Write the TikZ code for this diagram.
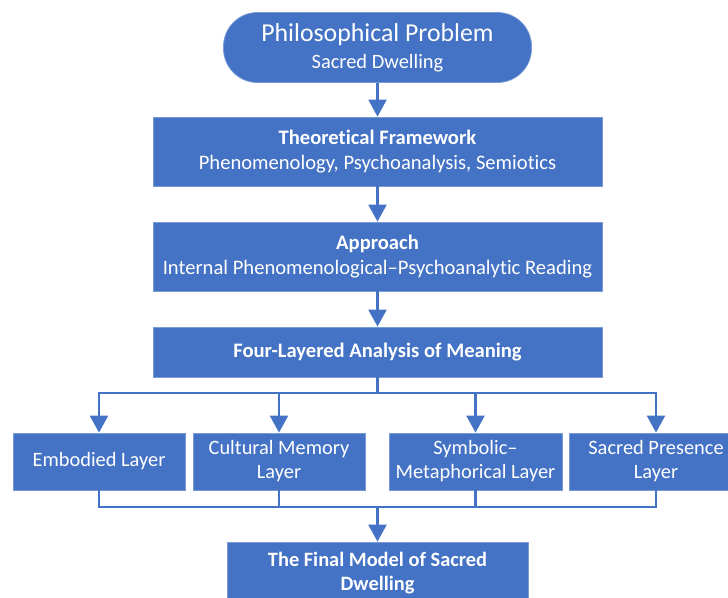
\documentclass[tikz,border=0pt]{standalone}
\usepackage{fontspec}
\setmainfont{Carlito}[Ligatures=NoCommon]
\usepackage{tikz}
\usetikzlibrary{arrows.meta,positioning,calc}
\definecolor{boxblue}{RGB}{68,114,196}
\definecolor{edgeblue}{RGB}{120,155,215}

\begin{document}
\begin{tikzpicture}[x=1pt, y=-1pt,
    stage/.style={rectangle, draw=edgeblue, line width=0.8pt, fill=boxblue, text=white, minimum width=449pt, minimum height=69pt, align=center, font=\fontsize{20.6}{25}\selectfont, inner sep=0pt},
    layer/.style={rectangle, draw=edgeblue, line width=0.8pt, fill=boxblue, text=white, minimum width=172pt, minimum height=57pt, align=center, font=\fontsize{20.4}{24}\selectfont, inner sep=0pt},
    link/.style={draw=boxblue, line width=2.4pt},
    flow/.style={link, -{Triangle[width=18pt,length=17pt]}}
]
    \useasboundingbox (0,0) rectangle (728,597);

    \node[stage, rounded corners=34pt, minimum width=308pt, minimum height=70pt, font=\fontsize{20.4}{27}\selectfont] (problem) at (377.5,47.5)
        {{\fontsize{25.8}{30}\selectfont Philosophical Problem}\\Sacred Dwelling};
    \node[stage] (theory) at (377.5,151.5) {\textbf{Theoretical Framework}\\Phenomenology, Psychoanalysis, Semiotics};
    \node[stage] (approach) at (377.5,256.5) {\textbf{Approach}\\Internal Phenomenological--Psychoanalytic Reading};
    \node[stage, minimum height=50pt] (analysis) at (377.5,352) {\textbf{Four-Layered Analysis of Meaning}};

    \node[layer] (embodied) at (99,461.5) {Embodied Layer};
    \node[layer] (memory) at (279,461.5) {Cultural Memory\\Layer};
    \node[layer, minimum width=173pt] (symbolic) at (475.5,461.5) {Symbolic--\\Metaphorical Layer};
    \node[layer, minimum width=174pt] (presence) at (656,461.5) {Sacred Presence\\Layer};

    \node[layer, minimum width=301pt, minimum height=62pt, font=\bfseries\fontsize{20.4}{24}\selectfont] (final) at (377.5,573) {The Final Model of Sacred\\Dwelling};

    \coordinate (split) at (377.5,393);
    \coordinate (join) at (377.5,507);

    \draw[flow] (problem) -- (theory);
    \draw[flow] (theory) -- (approach);
    \draw[flow] (approach) -- (analysis);

    \draw[link] (analysis) -- (split);
    \draw[flow] (split) -| (embodied.north);
    \draw[flow] (split) -| (memory.north);
    \draw[flow] (split) -| (symbolic.north);
    \draw[flow] (split) -| (presence.north);

    \draw[link] (embodied.south) |- (join);
    \draw[link] (memory.south) |- (join);
    \draw[link] (symbolic.south) |- (join);
    \draw[link] (presence.south) |- (join);
    \draw[flow] (join) -- (final);
\end{tikzpicture}
\end{document}
